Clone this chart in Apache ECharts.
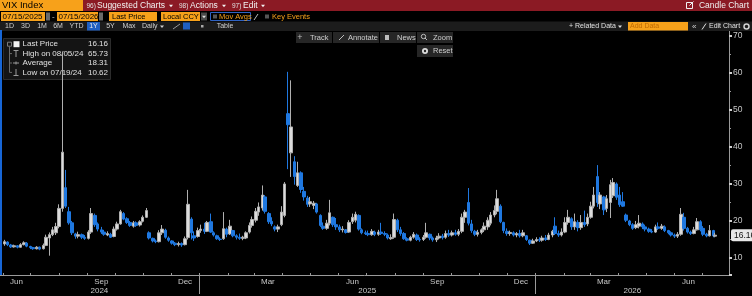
<!DOCTYPE html>
<html>
<head>
<meta charset="UTF-8" />
<title>VIX Index - Candle Chart</title>
<script src="https://cdn.jsdelivr.net/npm/echarts@6/dist/echarts.min.js"></script>
<style>
  html, body { margin: 0; padding: 0; background: #000; }
  #main { width: 752px; height: 296px; }
</style>
</head>
<body>
<div id="main"></div>
<script type="text/javascript">

    // candle dates, per month (two per week)
    var days = {
        '2024-06': [3, 6, 10, 13, 17, 20, 24, 27],
        '2024-07': [1, 4, 8, 11, 15, 18, 22, 25, 29],
        '2024-08': [1, 5, 8, 12, 15, 19, 22, 26, 29],
        '2024-09': [2, 5, 9, 12, 16, 19, 23, 26, 30],
        '2024-10': [3, 7, 10, 14, 17, 21, 24, 28, 31],
        '2024-11': [4, 7, 11, 14, 18, 21, 25, 28],
        '2024-12': [2, 5, 9, 12, 16, 19, 23, 26, 30],
        '2025-01': [2, 6, 9, 13, 16, 20, 23, 27, 30],
        '2025-02': [3, 6, 10, 13, 17, 20, 24, 27],
        '2025-03': [3, 6, 10, 13, 17, 20, 24, 27, 31],
        '2025-04': [3, 7, 10, 14, 17, 21, 24, 28],
        '2025-05': [1, 5, 8, 12, 15, 19, 22, 26, 29],
        '2025-06': [2, 5, 9, 12, 16, 19, 23, 26, 30],
        '2025-07': [3, 7, 10, 14, 17, 21, 24, 28, 31],
        '2025-08': [4, 7, 11, 14, 18, 21, 25, 28],
        '2025-09': [1, 4, 8, 11, 15, 18, 22, 25, 29],
        '2025-10': [2, 6, 9, 13, 16, 20, 23, 27, 30],
        '2025-11': [3, 6, 10, 13, 17, 20, 24, 27],
        '2025-12': [1, 4, 8, 11, 15, 18, 22, 26, 29],
        '2026-01': [2, 5, 8, 12, 15, 19, 22, 26, 29],
        '2026-02': [2, 5, 9, 12, 16, 19, 23, 26],
        '2026-03': [2, 5, 9, 12, 16, 19, 23, 26, 30],
        '2026-04': [2, 6, 9, 13, 16, 20, 23, 27, 30],
        '2026-05': [4, 7, 11, 14, 18, 21, 25, 28],
        '2026-06': [1, 4, 8, 11, 15, 18, 22, 25, 29],
        '2026-07': [2, 6, 9, 13, 15]
    };

    // [open, close, low, high] for each date above
    var ohlc = {
        '2024-06': [[13.8,14.4,13.3,14.9],[14.3,13.6,13.2,14.5],[13.5,13.0,12.7,13.8],[13.0,13.3,12.8,13.6],[13.3,12.9,12.6,13.5],[12.9,13.6,12.8,14.0],[13.6,14.1,13.4,14.5],[14.0,13.2,12.9,14.3]],
        '2024-07': [[13.1,12.8,12.4,13.3],[12.8,12.5,12.2,13.0],[12.5,12.9,12.3,13.2],[12.9,12.4,12.1,13.1],[12.5,13.4,12.3,13.9],[13.4,15.6,13.2,16.3],[15.4,16.3,10.62,16.9],[16.3,17.6,15.9,18.4],[16.8,18.5,16.2,19.5]],
        '2024-08': [[18.5,23.4,18.0,24.5],[23.4,38.6,22.5,65.73],[29.0,24.0,23.5,33.8],[22.5,19.5,19.0,23.8],[19.5,16.8,16.2,20.0],[16.5,15.9,15.2,16.8],[15.9,16.3,15.3,17.1],[16.3,15.6,15.1,16.6],[15.6,15.3,14.9,16.2]],
        '2024-09': [[15.3,17.0,15.0,17.5],[17.0,22.0,16.5,23.5],[21.5,19.0,18.4,22.0],[19.2,17.8,17.2,19.6],[17.6,17.0,16.5,18.4],[17.0,16.4,16.0,17.6],[16.2,16.6,15.9,17.2],[16.4,15.6,15.4,16.8],[15.8,17.8,15.6,18.5]],
        '2024-10': [[17.8,19.2,17.4,19.8],[19.2,22.5,19.0,23.0],[22.0,20.5,20.2,22.4],[20.6,19.6,19.2,21.0],[19.6,18.8,18.4,20.0],[18.6,19.5,18.2,20.0],[19.5,18.8,18.4,19.9],[18.9,19.8,18.5,20.2],[19.9,21.0,19.6,21.5]],
        '2024-11': [[21.0,22.8,20.8,23.5],[16.8,15.4,15.0,17.2],[15.3,14.6,14.2,15.5],[14.6,14.4,14.0,15.0],[14.4,16.8,14.2,17.5],[16.8,17.8,16.2,18.9],[17.5,15.6,15.2,17.9],[15.4,14.8,14.4,15.8]],
        '2024-12': [[14.6,14.0,13.6,14.8],[14.0,13.6,13.2,14.3],[13.6,13.9,13.1,14.4],[13.9,13.5,13.0,14.2],[13.6,15.2,13.4,15.8],[15.5,24.5,15.0,28.4],[20.5,16.8,15.0,21.0],[16.0,15.4,14.6,17.2],[15.8,17.4,15.5,18.2]],
        '2025-01': [[17.4,17.8,16.8,19.0],[17.8,17.2,16.5,19.5],[17.2,19.6,17.0,20.0],[19.8,17.0,16.8,22.0],[16.8,16.2,15.8,17.2],[16.0,15.2,14.9,16.3],[15.1,15.0,14.6,15.6],[15.2,17.9,14.9,22.4],[17.8,16.4,15.6,18.2]],
        '2025-02': [[16.5,18.6,16.2,20.3],[17.4,16.0,15.6,17.6],[16.0,15.6,15.0,16.4],[15.6,15.3,14.9,16.6],[15.3,15.6,14.8,16.0],[15.4,16.8,15.1,17.2],[17.0,18.8,16.6,19.6],[18.8,20.4,18.2,21.2]],
        '2025-03': [[20.2,22.6,19.6,23.5],[22.4,23.8,21.4,25.0],[23.5,27.0,22.8,29.6],[26.5,22.6,22.0,27.0],[22.0,19.8,19.2,22.4],[19.9,19.2,18.6,21.0],[18.4,17.8,17.2,18.8],[17.8,18.4,17.0,19.0],[19.0,22.4,18.6,24.0]],
        '2025-04': [[21.5,30.0,21.0,30.5],[49.0,46.0,34.0,60.3],[38.4,45.4,31.9,58.0],[36.0,32.0,29.8,37.5],[29.6,33.0,29.2,36.0],[33.0,28.5,27.6,33.4],[28.0,26.5,25.5,29.2],[26.2,24.5,23.8,26.8]],
        '2025-05': [[24.6,25.2,23.8,26.5],[24.2,24.8,23.2,25.4],[24.6,22.4,22.0,24.9],[21.5,18.8,18.4,21.8],[18.6,18.0,17.6,19.6],[18.0,19.4,17.6,20.3],[19.4,22.2,18.8,25.7],[21.0,19.0,18.4,21.2],[19.0,18.4,17.6,20.8]],
        '2025-06': [[18.4,17.6,17.0,19.0],[17.6,17.8,16.9,18.6],[17.6,16.9,16.6,17.8],[17.0,19.6,16.8,20.2],[19.8,21.0,19.2,22.0],[20.2,21.8,19.6,22.5],[21.5,17.8,17.4,21.8],[17.6,16.8,16.4,18.0],[16.8,16.6,16.2,17.4]],
        '2025-07': [[16.6,16.3,15.9,17.4],[16.3,17.2,16.0,17.8],[17.0,16.4,15.9,17.4],[16.4,17.0,16.0,17.6],[17.0,16.6,16.2,19.5],[16.6,16.4,15.9,17.2],[16.2,15.4,15.0,16.6],[15.2,15.5,14.9,16.4],[15.6,20.4,15.2,22.0]],
        '2025-08': [[20.2,17.6,17.0,20.6],[17.6,16.6,16.0,18.4],[16.6,15.2,14.9,17.0],[15.2,14.8,14.5,15.6],[14.8,15.6,14.5,16.0],[15.6,16.4,15.2,17.0],[16.2,15.0,14.6,16.6],[15.0,14.9,14.4,15.6]],
        '2025-09': [[15.0,15.6,14.6,16.2],[15.6,16.8,15.2,19.5],[16.4,15.4,14.8,16.6],[15.4,14.9,14.4,15.8],[14.9,15.4,14.3,16.0],[15.4,15.9,15.0,16.7],[15.9,15.5,15.0,16.5],[15.6,16.6,15.2,17.4],[16.6,16.2,15.7,17.6]],
        '2025-10': [[16.2,16.8,15.8,17.4],[16.8,16.4,16.0,17.6],[16.4,17.2,15.9,17.8],[17.2,21.0,16.7,22.0],[21.0,22.4,19.5,23.0],[25.0,19.4,18.8,28.9],[19.2,17.4,16.8,20.3],[17.2,16.4,15.9,17.6],[16.4,16.9,15.8,17.6]],
        '2025-11': [[16.9,17.6,16.4,18.0],[17.6,18.6,17.0,19.6],[18.4,20.2,17.6,21.0],[19.4,21.6,18.8,22.4],[21.6,22.8,21.0,24.2],[22.6,26.0,21.8,28.4],[24.0,19.8,19.4,24.5],[19.6,17.4,16.7,19.8]],
        '2025-12': [[17.2,16.6,16.0,18.0],[16.6,16.9,16.0,17.4],[16.8,16.2,15.8,17.2],[16.2,16.6,15.6,17.0],[16.6,16.0,15.5,17.6],[16.0,16.8,15.6,17.6],[16.0,15.0,14.6,16.2],[14.8,14.0,13.5,15.0],[14.0,14.6,13.8,15.2]],
        '2026-01': [[14.6,15.0,14.3,15.6],[15.0,14.8,14.3,15.6],[14.8,15.4,14.4,16.0],[15.4,15.0,14.6,16.2],[15.0,16.2,14.8,16.8],[16.2,17.2,15.6,17.6],[18.6,16.6,16.2,21.0],[16.6,16.2,15.7,17.4],[16.2,17.0,15.8,18.0]],
        '2026-02': [[17.0,19.6,16.7,21.0],[19.6,21.0,19.0,23.0],[20.6,18.4,17.6,21.0],[18.4,19.8,17.6,22.0],[19.6,18.2,17.2,20.2],[18.2,19.6,17.6,21.6],[19.6,19.0,18.4,22.8],[19.2,21.0,18.6,22.0]],
        '2026-03': [[21.0,24.0,20.6,25.2],[24.0,27.0,23.4,29.2],[32.0,25.0,23.8,35.1],[24.6,27.0,23.2,27.8],[26.5,23.0,21.6,26.8],[23.4,26.0,22.4,27.0],[25.0,29.8,20.8,31.1],[26.8,30.4,26.2,31.6],[30.0,26.4,25.7,30.4]],
        '2026-04': [[27.0,24.4,23.8,29.2],[25.2,24.0,23.8,27.8],[21.6,20.2,19.7,22.0],[20.0,19.0,18.6,20.3],[19.0,18.0,17.6,19.4],[18.2,19.0,17.8,20.0],[18.6,19.4,18.0,21.6],[19.2,18.4,17.8,19.6],[18.4,17.8,17.2,19.0]],
        '2026-05': [[17.8,17.2,16.8,18.2],[17.2,17.0,16.7,17.8],[17.0,18.4,16.8,19.0],[18.4,18.0,17.6,19.6],[18.0,18.6,17.6,19.2],[18.4,17.4,17.0,18.8],[17.4,16.8,16.4,17.6],[16.8,16.2,15.8,17.2]],
        '2026-06': [[16.2,15.9,15.4,16.6],[15.9,16.4,15.4,17.0],[16.4,21.8,16.0,23.5],[21.0,18.0,17.4,22.2],[18.0,17.0,16.6,18.4],[17.0,16.6,16.2,17.4],[16.6,17.6,16.4,18.4],[17.6,19.8,17.4,20.8],[19.8,17.6,17.2,20.2]],
        '2026-07': [[18.0,16.4,15.9,18.6],[16.4,16.0,15.6,16.8],[16.0,17.4,15.8,18.9],[17.4,16.0,15.6,17.6],[15.9,16.16,15.6,16.8]]
    };

    // legend box
    var legendLabels = ['Last Price', 'High on 08/05/24', 'Average', 'Low on 07/19/24'];
    var legendValues = ['16.16', '65.73', '18.31', '10.62'];
    var lastPrice = 16.16;

    // x axis labels
    var monthLabelDates = ['2024-06-16', '2024-09-16', '2024-12-16', '2025-03-16', '2025-06-16', '2025-09-16', '2025-12-16', '2026-03-16', '2026-06-16'];
    var monthLabelText = ['Jun', 'Sep', 'Dec', 'Mar', 'Jun', 'Sep', 'Dec', 'Mar', 'Jun'];
    var yearLabelDates = ['2024-09-14', '2025-07-02', '2026-04-16'];
    var yearLabelText = ['2024', '2025', '2026'];
    var yearBreaks = ['2025-01-01', '2026-01-01'];

    var FONT = '"Liberation Sans", Arial, sans-serif';

    function ts(s) {
        var p = s.split('-');
        return new Date(+p[0], +p[1] - 1, +(p[2] || 1)).getTime();
    }

    // build candle rows [time, open, close, low, high]
    var candleData = [];
    Object.keys(days).forEach(function (m) {
        days[m].forEach(function (d, i) {
            var v = ohlc[m][i];
            candleData.push([ts(m + '-' + d), v[0], v[1], v[2], v[3]]);
        });
    });

    var monthTicks = [];
    for (var k = 5; k <= 30; k++) {
        monthTicks.push(new Date(2024, k, 1).getTime());
    }

    var monthMap = {};
    monthLabelDates.forEach(function (d, i) { monthMap[ts(d)] = monthLabelText[i]; });
    var yearMap = {};
    yearLabelDates.forEach(function (d, i) { yearMap[ts(d)] = yearLabelText[i]; });

    // small drawing helpers for the terminal chrome
    function zOr(z, def) { return z === undefined ? def : z; }
    function txt(x, y, s, color, size, align, z) {
        return {
            type: 'text', x: x, y: y, silent: true, z: zOr(z, 10),
            style: { text: s, fill: color, fontSize: size || 9, fontFamily: FONT,
                     align: align || 'left', verticalAlign: 'middle' }
        };
    }
    function box(x, y, w, h, fill, stroke, z) {
        return {
            type: 'rect', silent: true, z: zOr(z, 9),
            shape: { x: x, y: y, width: w, height: h },
            style: { fill: fill || 'none', stroke: stroke || null, lineWidth: 1 }
        };
    }
    function line(x1, y1, x2, y2, color, z) {
        return {
            type: 'line', silent: true, z: zOr(z, 9),
            shape: { x1: x1, y1: y1, x2: x2, y2: y2 },
            style: { stroke: color, lineWidth: 1 }
        };
    }
    // small down-pointing caret
    function caret(cx, cy, color) {
        return {
            type: 'polygon', silent: true, z: 10,
            shape: { points: [[cx - 2, cy - 1], [cx + 2, cy - 1], [cx, cy + 1.5]] },
            style: { fill: color }
        };
    }

    var ORANGE = '#f7a11a';
    var graphics = [
        // top red bar
        box(0, 0, 752, 11, '#8b1a24'),
        box(0, 0, 83, 11, ORANGE),
        txt(2, 5.8, 'VIX Index', '#000', 9.5),
        txt(86.5, 6, '96)', '#e0e0e0', 6.5),
        txt(97, 5.8, 'Suggested Charts', '#f2f2f2', 8.5),
        caret(171, 5.8, '#f2f2f2'),
        txt(179, 6, '98)', '#e0e0e0', 6.5),
        txt(190, 5.8, 'Actions', '#f2f2f2', 8.5),
        caret(224, 5.8, '#f2f2f2'),
        txt(232, 6, '97)', '#e0e0e0', 6.5),
        txt(243, 5.8, 'Edit', '#f2f2f2', 8.5),
        caret(263, 5.8, '#f2f2f2'),
        box(686.5, 2.5, 6, 6, null, '#f0f0f0'),
        line(689.5, 5.5, 693.5, 1.5, '#f0f0f0'),
        txt(749, 5.8, 'Candle Chart', '#f0f0f0', 8.5, 'right'),

        // date / field row
        box(1, 12, 44, 9, ORANGE),
        txt(2.5, 16.7, '07/15/2025', '#000', 8),
        box(46, 12.5, 4, 8, '#6a6a6a'),
        txt(52, 16.7, '-', '#cccccc', 8),
        box(57, 12, 41, 9, ORANGE),
        txt(58.5, 16.7, '07/15/2026', '#000', 8),
        box(99, 12.5, 4, 8, '#6a6a6a'),
        box(109, 12, 48, 9, ORANGE),
        txt(112, 16.7, 'Last Price', '#000', 7.5),
        box(161, 12, 39, 9, ORANGE),
        txt(163, 16.7, 'Local CCY', '#000', 7.5),
        box(201, 12.5, 6, 8, '#4a4a4a'),
        caret(204, 16.7, '#dddddd'),
        box(210.5, 12.5, 40, 8, null, '#2f63c4'),
        box(213, 14.5, 4, 4, '#555555'),
        txt(219, 16.7, 'Mov Avgs', ORANGE, 7.5),
        line(254, 20, 258, 14, '#bbbbbb'),
        box(265, 14.5, 4, 4, '#555555'),
        txt(272, 16.7, 'Key Events', ORANGE, 7.5),

        // range row
        box(0, 21.5, 752, 9.5, '#1c1c1c'),
        box(87, 22, 13, 8.5, '#1f5fc2'),
        txt(9.5, 26.5, '1D', '#d0d0d0', 7, 'center'),
        txt(25.5, 26.5, '3D', '#d0d0d0', 7, 'center'),
        txt(42, 26.5, '1M', '#d0d0d0', 7, 'center'),
        txt(58, 26.5, '6M', '#d0d0d0', 7, 'center'),
        txt(76.5, 26.5, 'YTD', '#d0d0d0', 7, 'center'),
        txt(93.5, 26.5, '1Y', '#e8e8e8', 7, 'center'),
        txt(110.5, 26.5, '5Y', '#d0d0d0', 7, 'center'),
        txt(129, 26.5, 'Max', '#d0d0d0', 7, 'center'),
        txt(142, 26.5, 'Daily', '#d0d0d0', 7),
        caret(162, 26.5, '#d0d0d0'),
        line(173, 29, 180, 24, '#9a9a9a'),
        box(183, 22.5, 7, 7, '#1f5fc2'),
        box(201, 25, 2.5, 2.5, '#aaaaaa'),
        txt(225, 26.5, 'Table', '#d0d0d0', 7, 'center'),
        txt(569, 26.5, '+ Related Data', '#e0e0e0', 7),
        caret(620, 26.5, '#e0e0e0'),
        box(628, 22, 60, 8.5, ORANGE),
        txt(630, 26.5, 'Add Data', '#c06a00', 7),
        txt(692, 26.5, '\u00AB', '#d0d0d0', 8),
        line(702, 29.5, 706, 23.5, '#e0e0e0'),
        txt(709, 26.5, 'Edit Chart', '#e0e0e0', 7),
        { type: 'circle', silent: true, z: 10, shape: { cx: 746.5, cy: 26.5, r: 2.5 }, style: { fill: 'none', stroke: '#d0d0d0', lineWidth: 1.5 } },

        // chart tool buttons
        box(296, 32, 36, 11, '#262626'),
        txt(300, 37.5, '+', '#bdbdbd', 9, 'center'),
        txt(310, 37.5, 'Track', '#cfcfcf', 7.5),
        box(333, 32, 46, 11, '#262626'),
        line(339, 40, 344, 35, '#bdbdbd'),
        txt(348, 37.5, 'Annotate', '#cfcfcf', 7.5),
        box(380, 32, 36, 11, '#262626'),
        box(385, 35, 4, 5, '#bdbdbd'),
        txt(397, 37.5, 'News', '#cfcfcf', 7.5),
        box(417, 32, 36, 11, '#262626'),
        { type: 'circle', silent: true, z: 10, shape: { cx: 423.5, cy: 36.5, r: 2.2 }, style: { fill: 'none', stroke: '#bdbdbd' } },
        line(425, 38, 427, 40, '#bdbdbd', 10),
        txt(433, 37.5, 'Zoom', '#cfcfcf', 7.5),
        box(417, 45, 36, 12, '#262626'),
        { type: 'circle', silent: true, z: 10, shape: { cx: 425, cy: 51, r: 3 }, style: { fill: '#dddddd' } },
        { type: 'circle', silent: true, z: 11, shape: { cx: 425, cy: 51, r: 1.2 }, style: { fill: '#262626' } },
        txt(433, 51, 'Reset', '#cfcfcf', 7.5),

        // left blue edge
        box(0, 30, 2, 245, '#1766d6'),

        // legend panel (below the series so the spike shows through)
        box(3.5, 38.5, 107, 41, 'rgba(22,22,22,0.92)', '#2c2c2c', 0),
        box(7.5, 42.2, 4, 4, null, '#7a7a7a', 0),
        line(9.5, 46.2, 9.5, 72.4, '#6a6a6a', 0),
        line(9.5, 53.6, 12, 53.6, '#6a6a6a', 0),
        line(9.5, 63, 12, 63, '#6a6a6a', 0),
        line(9.5, 72.4, 12, 72.4, '#6a6a6a', 0),
        box(13.5, 41.2, 6, 6, '#f2f2f2', null, 0),
        line(13.5, 50.5, 18.5, 50.5, '#9a9a9a', 0),
        line(16, 50.5, 16, 57, '#9a9a9a', 0),
        line(13, 63, 19, 63, '#9a9a9a', 0),
        line(16, 61.5, 16, 64.5, '#9a9a9a', 0),
        line(16, 69, 16, 75.5, '#9a9a9a', 0),
        line(13.5, 75.5, 18.5, 75.5, '#9a9a9a', 0)
    ];
    var rowY = [44.2, 53.6, 63.0, 72.4];
    legendLabels.forEach(function (s, i) {
        graphics.push(txt(22.5, rowY[i], s, '#e0e0e0', 8, 'left', 1));
        graphics.push(txt(108, rowY[i], legendValues[i], '#e0e0e0', 8, 'right', 1));
    });

    var xMin = ts('2024-05-29');
    var xMax = ts('2026-07-30');

    var option = {
        backgroundColor: '#000',
        animation: false,
        textStyle: { fontFamily: FONT },
        grid: { left: 0, right: 23, top: 30, bottom: 21, outerBoundsMode: 'none', containLabel: false },
        xAxis: [{
            type: 'value',
            position: 'bottom',
            min: xMin,
            max: xMax,
            axisLine: { show: true, lineStyle: { color: '#9a9a9a', width: 1 } },
            axisTick: { show: true, inside: true, length: 2, customValues: monthTicks,
                        lineStyle: { color: '#9a9a9a' } },
            axisLabel: {
                customValues: monthLabelDates.map(ts),
                formatter: function (v) { return monthMap[v] || ''; },
                color: '#c8c8c8', fontSize: 8, fontFamily: FONT, margin: 3
            },
            splitLine: { show: false }
        }, {
            type: 'value',
            gridIndex: 0,
            position: 'bottom',
            min: xMin,
            max: xMax,
            axisLine: { show: false },
            axisTick: { show: true, length: 19, customValues: yearBreaks.map(ts),
                        lineStyle: { color: '#9a9a9a' } },
            axisLabel: {
                customValues: yearLabelDates.map(ts),
                formatter: function (v) { return yearMap[v] || ''; },
                color: '#c8c8c8', fontSize: 8, fontFamily: FONT, margin: 12
            },
            splitLine: { show: false }
        }],
        yAxis: [{
            type: 'value',
            position: 'right',
            min: 5.4,
            max: 71.6,
            splitNumber: 7,
            minInterval: 10,
            maxInterval: 10,
            axisLine: { show: true, lineStyle: { color: '#9a9a9a' } },
            axisTick: { show: true, length: 3, lineStyle: { color: '#d0d0d0', width: 2 } },
            minorTick: { show: true, splitNumber: 2, length: 2, lineStyle: { color: '#9a9a9a' } },
            axisLabel: { color: '#c8c8c8', fontSize: 8.5, fontFamily: FONT, margin: 4,
                         showMinLabel: false, showMaxLabel: false },
            splitLine: { show: false }
        }, {
            // last price tag on the value axis
            type: 'value',
            position: 'right',
            min: 5.4,
            max: 71.6,
            axisLine: { show: false },
            axisTick: { show: false },
            splitLine: { show: false },
            axisLabel: {
                customValues: [lastPrice],
                formatter: function () { return String(lastPrice); },
                color: '#111', backgroundColor: '#e8e8e8', borderRadius: 2,
                padding: [2, 3, 1, 3], fontSize: 8.5, fontFamily: FONT, margin: 2
            }
        }],
        graphic: graphics,
        series: [{
            type: 'candlestick',
            name: 'VIX Index',
            xAxisIndex: 0,
            yAxisIndex: 0,
            data: candleData,
            barWidth: 3,
            z: 2,
            itemStyle: {
                color: '#dcdcdc',
                color0: '#1f78e0',
                borderColor: '#b0b0b0',
                borderColor0: '#1f78e0',
                borderWidth: 1
            }
        }]
    };

    var myChart = echarts.init(document.getElementById('main'));
    myChart.setOption(option);
</script>
</body>
</html>
